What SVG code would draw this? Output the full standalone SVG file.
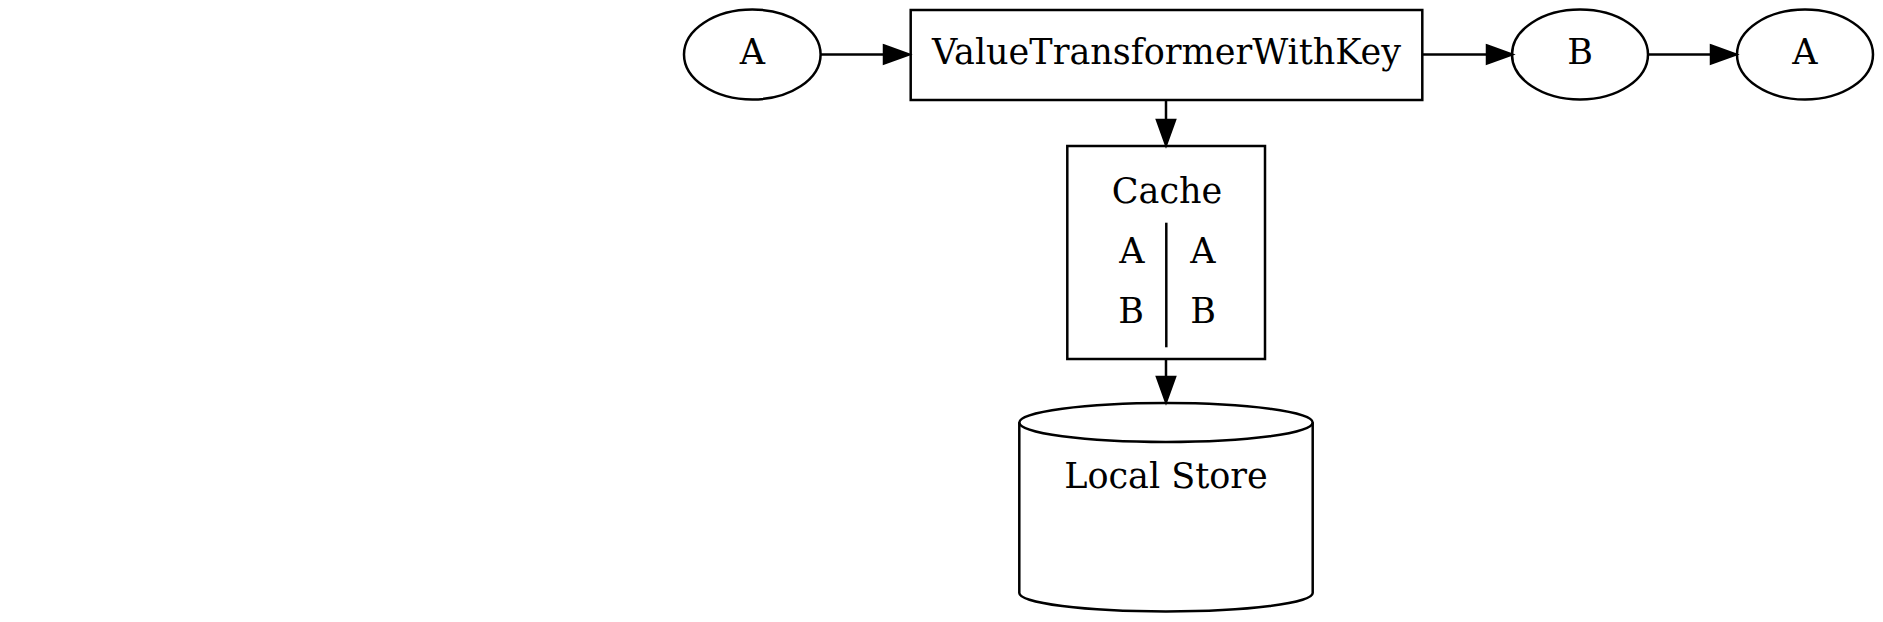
<svg xmlns="http://www.w3.org/2000/svg" width="1883" height="622" viewBox="0 0 1883 622">
<style>
  .shape { fill: none; stroke: #000; stroke-width: 2.5; }
  .edge { fill: none; stroke: #000; stroke-width: 2.5; }
  text { font-family: "DejaVu Serif", "Liberation Serif", serif; font-size: 35px; fill: #000; text-anchor: middle; }
</style>
<defs>
  <marker id="arrow" markerUnits="userSpaceOnUse" markerWidth="28" markerHeight="22" refX="0" refY="10" orient="auto" overflow="visible">
    <path d="M0,1 L25,10 L0,19 Z" fill="#000" stroke="#000" stroke-width="2.5"/>
  </marker>
</defs>
<rect width="1883" height="622" fill="#fff"/>
<g id="connectors">
  <line class="edge" x1="820.7" y1="54.5" x2="884" y2="54.5" marker-end="url(#arrow)"/>
  <line class="edge" x1="1422.3" y1="54.5" x2="1487" y2="54.5" marker-end="url(#arrow)"/>
  <line class="edge" x1="1648" y1="54.5" x2="1711" y2="54.5" marker-end="url(#arrow)"/>
  <line class="edge" x1="1166" y1="100" x2="1166" y2="120" marker-end="url(#arrow)"/>
  <line class="edge" x1="1166" y1="359" x2="1166" y2="377" marker-end="url(#arrow)"/>
</g>
<g id="node-a-in">
  <ellipse class="shape" cx="752.3" cy="54.5" rx="68.3" ry="45"/>
  <text x="752.3" y="64">A</text>
</g>
<g id="node-transformer">
  <rect class="shape" x="910.7" y="10" width="511.6" height="90"/>
  <text x="1166.5" y="64">ValueTransformerWithKey</text>
</g>
<g id="node-b">
  <ellipse class="shape" cx="1580" cy="54.5" rx="68" ry="45"/>
  <text x="1580" y="64">B</text>
</g>
<g id="node-a-out">
  <ellipse class="shape" cx="1805" cy="54.5" rx="68" ry="45"/>
  <text x="1805" y="64">A</text>
</g>
<g id="node-cache">
  <rect class="shape" x="1067.3" y="146" width="197.7" height="213"/>
  <text x="1167" y="203">Cache</text>
  <line class="shape" x1="1166.3" y1="222.7" x2="1166.3" y2="347.3"/>
  <text x="1132" y="263">A</text>
  <text x="1203" y="263">A</text>
  <text x="1131" y="323">B</text>
  <text x="1203" y="323">B</text>
</g>
<g id="node-store">
  <path class="shape" d="M1019.3,422.5 A146.7,19.5 0 0 1 1312.7,422.5 L1312.7,593 A146.7,18.5 0 0 1 1019.3,593 Z"/>
  <path class="shape" d="M1019.3,422.5 A146.7,19.5 0 0 0 1312.7,422.5"/>
  <text x="1166" y="488">Local Store</text>
</g>
</svg>
